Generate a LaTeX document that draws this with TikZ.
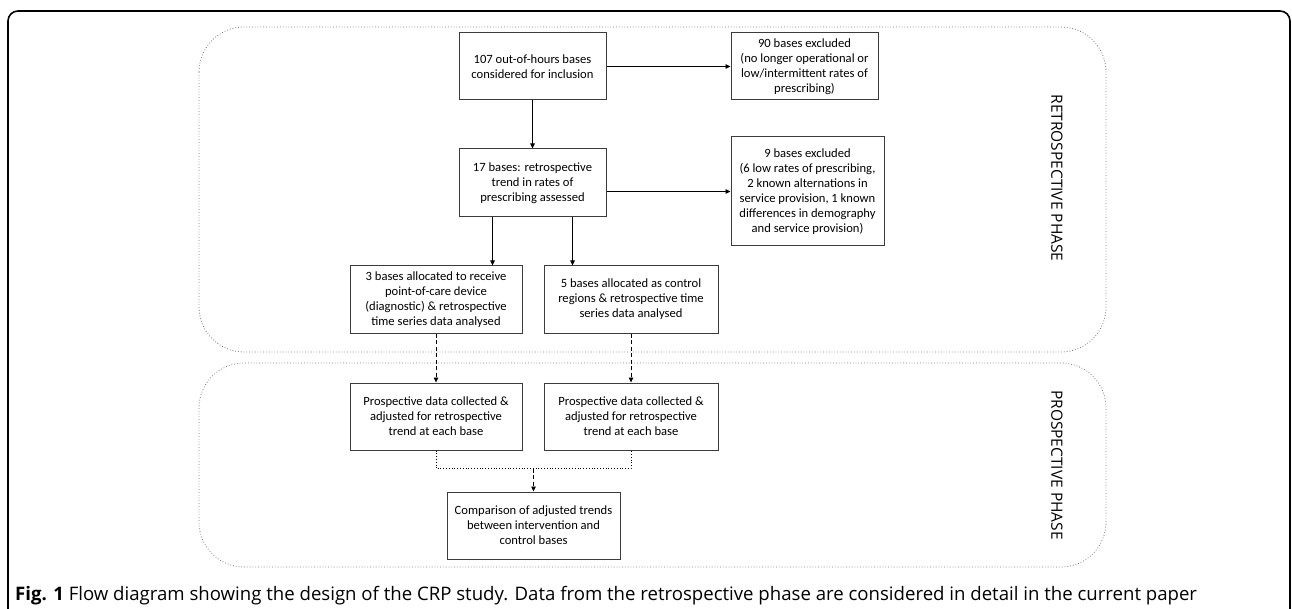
\documentclass[tikz,border=0pt]{standalone}
\usepackage{fontspec}
\setmainfont{Carlito}
\newfontfamily\capfont{Open Sans}
\usetikzlibrary{arrows.meta,positioning,calc}
\definecolor{boxGray}{RGB}{60,60,60}
\definecolor{frameGray}{RGB}{120,120,120}

\begin{document}
\begin{tikzpicture}[x=1pt,y=-1pt,
    stage/.style={draw=boxGray,line width=1pt,minimum width=147pt,minimum height=67pt,align=center,font=\fontsize{12.6}{15}\selectfont,inner sep=2pt},
    arrow/.style={-{Triangle[length=5pt,width=4.5pt]},line width=0.8pt},
    dasharrow/.style={arrow,dash pattern=on 4pt off 2.5pt},
    phase/.style={draw=frameGray,dotted,line width=0.8pt,rounded corners=45pt},
    phaselabel/.style={rotate=-90,font=\capfont\fontsize{15.5}{18}\selectfont}
  ]
    \useasboundingbox (0,0) rectangle (1292,609);
    \draw[line width=1.6pt,rounded corners=10pt] (8,615) -- (8,11) -- (1290,11) -- (1290,615);

    % phase frames
    \draw[phase] (199,27) rectangle (1106,352);
    \draw[phase] (199,363) rectangle (1106,567);
    \node[phaselabel] (retroLab) at (1057,178) {RETROSPECTIVE PHASE};
    \node[phaselabel] (prosLab) at (1057,465) {PROSPECTIVE PHASE};

    \node[stage] (cand) at (532.5,66.5) {107 out-of-hours bases\\considered for inclusion};
    \node[stage] (excl1) at (804.5,66.5) {90 bases excluded\\(no longer operational or\\low/intermittent rates of\\prescribing)};
    \node[stage,minimum height=68pt] (retro) at (532.5,183) {17 bases: retrospective\\trend in rates of\\prescribing assessed};
    \node[stage,minimum width=153pt,minimum height=109pt] (excl2) at (807.5,191.5) {9 bases excluded\\(6 low rates of prescribing,\\2 known alternations in\\service provision, 1 known\\differences in demography\\and service provision)};
    \node[stage,minimum width=172pt] (poc) at (436,299.5) {3 bases allocated to receive\\point-of-care device\\(diagnostic) \& retrospective\\time series data analysed};
    \node[stage,minimum width=174pt] (ctrl) at (631,299.5) {5 bases allocated as control\\regions \& retrospective time\\series data analysed};
    \node[stage,minimum width=172pt] (prosA) at (436,416.5) {Prospective data collected \&\\adjusted for retrospective\\trend at each base};
    \node[stage,minimum width=174pt] (prosB) at (631,416.5) {Prospective data collected \&\\adjusted for retrospective\\trend at each base};
    \node[stage,minimum width=173pt] (cmp) at (533.5,525.5) {Comparison of adjusted trends\\between intervention and\\control bases};

    \draw[arrow] (cand) -- (excl1);
    \draw[arrow] (cand) -- (retro);
    \draw[arrow] (retro.east |- excl2.west) -- (excl2.west);
    \draw[arrow] ([xshift=-40pt]retro.south) -- ([xshift=-40pt]retro.south |- poc.north);
    \draw[arrow] ([xshift=40pt]retro.south) -- ([xshift=40pt]retro.south |- ctrl.north);
    \draw[dasharrow] (poc) -- (prosA);
    \draw[dasharrow] (ctrl) -- (prosB);
    \draw[dotted,line width=0.8pt] (prosA.south) -- ++(0,18) -| (prosB.south);
    \coordinate (join) at ($(prosA.south)!0.5!(prosB.south)+(0,18)$);
    \draw[dasharrow] (join) -- (cmp);

    \node[anchor=base west,inner sep=0pt,font=\capfont\fontsize{18.6}{21}\selectfont] (cap) at (15,600) {\textbf{Fig. 1} Flow diagram showing the design of the CRP study. Data from the retrospective phase are considered in detail in the current paper};
  \end{tikzpicture}
\end{document}
